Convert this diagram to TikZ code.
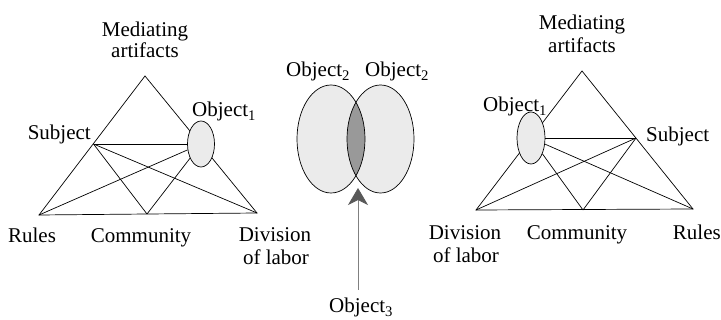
\documentclass[tikz,border=0pt]{standalone}
\usepackage{fontspec}
\setmainfont{Liberation Serif}
\usetikzlibrary{arrows.meta,shapes.geometric}
\begin{document}
\begin{tikzpicture}[x=1pt,y=-1pt,
  lbl/.style={font=\fontsize{21}{23}\selectfont, inner sep=0pt, anchor=base},
  edge/.style={draw=black, line width=0.7pt},
  objell/.style={ellipse, draw=black, line width=0.7pt, fill=black!8, inner sep=0pt}]
\useasboundingbox (0,0) rectangle (721,320);
% ---------- left triangle ----------
\coordinate (LA) at (145,76);
\coordinate (LR) at (39,215);
\coordinate (LD) at (257,213);
\coordinate (LC) at (147,214);
\coordinate (LS) at (93.5,144);
\draw[edge] (LR) -- (LA) -- (LD) -- cycle;
\draw[edge] (LS) -- (LC);
\draw[edge] (LS) -- (LD);
\node[objell, minimum width=27pt, minimum height=46pt] (LO) at (201,144) {};
\draw[edge] (LS) -- (LO);
\draw[edge] (LR) -- (LO);
\draw[edge] (LC) -- (LO);
\node[lbl] (lmed) at (145,37) {Mediating};
\node[lbl] (lart) at (145,58) {artifacts};
\node[lbl, anchor=base east] (lsub) at (91,140) {Subject};
\node[lbl, anchor=base west] (lobj) at (192,117) {Object\textsubscript{1}};
\node[lbl] (lrul) at (32,243) {Rules};
\node[lbl] (lcom) at (141,243) {Community};
\node[lbl] (ldiv) at (275,242) {Division};
\node[lbl] (llab) at (276,265) {of labor};
% ---------- middle ----------
\fill[black!8] (331,139) ellipse [x radius=34, y radius=54];
\fill[black!8] (380.5,139) ellipse [x radius=33.5, y radius=54];
\begin{scope}
  \clip (331,139) ellipse [x radius=34, y radius=54];
  \fill[black!40] (380.5,139) ellipse [x radius=33.5, y radius=54];
\end{scope}
\draw[edge] (331,139) ellipse [x radius=34, y radius=54];
\draw[edge] (380.5,139) ellipse [x radius=33.5, y radius=54];
\node[lbl, anchor=base west] (o2a) at (286,77) {Object\textsubscript{2}};
\node[lbl, anchor=base west] (o2b) at (365,77) {Object\textsubscript{2}};
\node[lbl, anchor=base west] (o3) at (329,313) {Object\textsubscript{3}};
\coordinate (tip) at (358,188);
\draw[black!50, line width=0.8pt, -{Stealth[length=17pt, width=20pt, inset=5pt, color=black!65]}] (358,290) -- (tip);
% ---------- right triangle ----------
\coordinate (RA) at (582,71);
\coordinate (RD) at (476,210);
\coordinate (RRu) at (693,209);
\coordinate (RC) at (583,210);
\coordinate (RS) at (636,138);
\draw[edge] (RD) -- (RA) -- (RRu) -- cycle;
\draw[edge] (RD) -- (RS);
\draw[edge] (RC) -- (RS);
\node[objell, minimum width=28pt, minimum height=52pt] (RO) at (531,138) {};
\draw[edge] (RO) -- (RS);
\draw[edge] (RO) -- (RC);
\draw[edge] (RO) -- (RRu);
\node[lbl] (rmed) at (582,30) {Mediating};
\node[lbl] (rart) at (582,53) {artifacts};
\node[lbl, anchor=base west] (robj) at (483,112) {Object\textsubscript{1}};
\node[lbl, anchor=base west] (rsub) at (646,142) {Subject};
\node[lbl] (rdiv) at (465,240) {Division};
\node[lbl] (rlab) at (466,263) {of labor};
\node[lbl] (rcom) at (577,240) {Community};
\node[lbl, anchor=base east] (rrul) at (721,240) {Rules};
\end{tikzpicture}
\end{document}
